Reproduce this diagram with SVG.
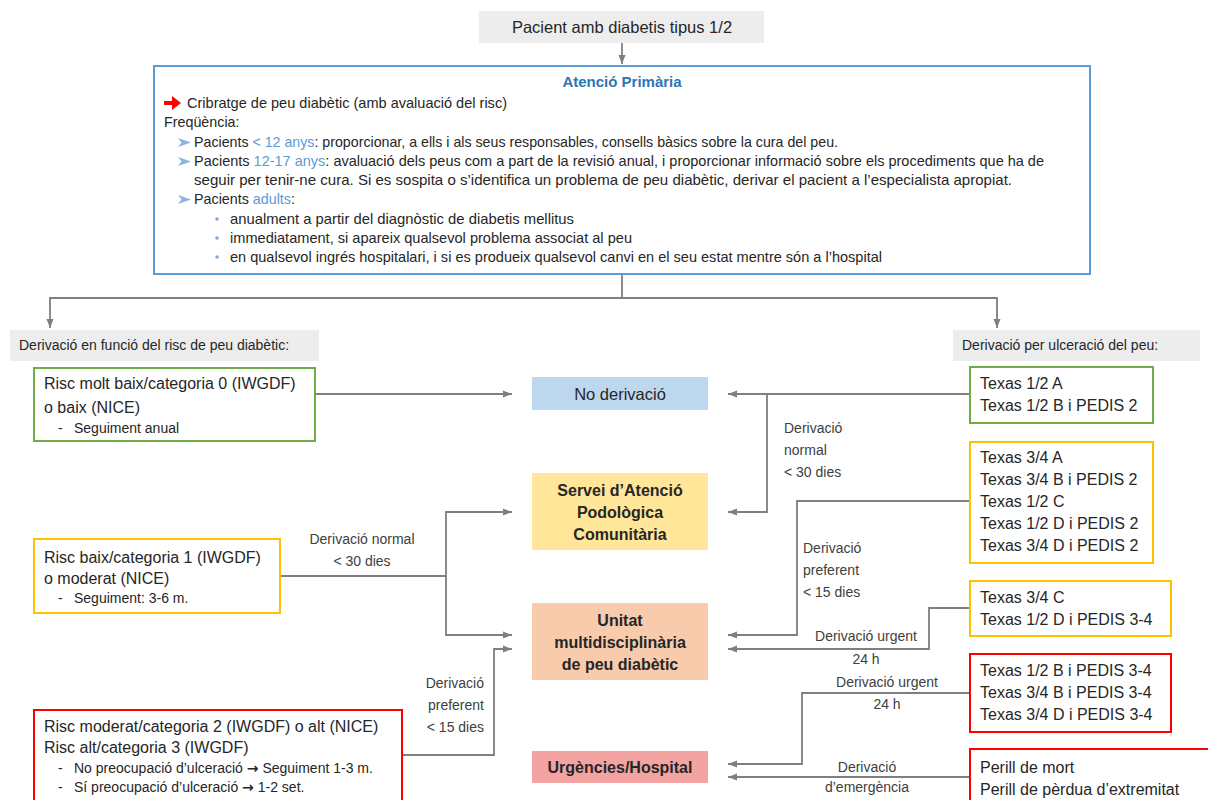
<svg xmlns="http://www.w3.org/2000/svg" width="1208" height="800" viewBox="0 0 1208 800">
<defs>
<marker id="ah" markerUnits="userSpaceOnUse" markerWidth="9" markerHeight="8" refX="9" refY="4" orient="auto"><path d="M0,0.5 L9,4 L0,7.5 z" fill="#7F7F7F"/></marker>
<style>
text{font-family:"Liberation Sans",Arial,sans-serif;fill:#262626}
.body{font-size:14.3px}
.box{font-size:16px}
.sub{font-size:14px}
.lab{font-size:14px;fill:#404040}
.node{font-size:16px;font-weight:bold;text-anchor:middle}
.mid{text-anchor:middle}
.end{text-anchor:end}
.hl{fill:#5B9BD5}
.arr{font-family:"DejaVu Sans",sans-serif;font-weight:bold}
.conn path{fill:none;stroke:#7F7F7F;stroke-width:1.8;marker-end:url(#ah)}
.conn path.plain{marker-end:none}
.gray{fill:#EDEDED}
.bg{fill:#FFFFFF;stroke-width:2}
.g{stroke:#70AD47}
.y{stroke:#FFC000}
.r{stroke:#FF0000}
.chev{fill:#8FB4E3}
.dot{fill:#7FA9DD}
</style>
</defs>
<rect width="1208" height="800" fill="#FFFFFF"/>

<g id="connectors" class="conn">
<path d="M622,43 V64"/>
<path class="plain" d="M622,274 V298"/>
<path d="M622,298 H50 V328"/>
<path d="M622,298 H997 V328"/>
<path d="M315,394 H512"/>
<path d="M280,576 H446 V512 H512"/>
<path d="M446,576 V635 H512"/>
<path d="M402,755 H494 V649 H512"/>
<path d="M970,394 H728"/>
<path d="M767,394 V512 H728"/>
<path d="M970,501 H797 V635 H728"/>
<path d="M970,608 H929 V649 H728"/>
<path d="M970,693 H802 V764 H728"/>
<path d="M970,777 H728"/>
</g>

<g id="connector-labels">
<text class="lab mid" x="362" y="544">Derivació normal</text>
<text class="lab mid" x="362" y="566">&lt; 30 dies</text>
<text class="lab end" x="484" y="688">Derivació</text>
<text class="lab end" x="484" y="710">preferent</text>
<text class="lab end" x="484" y="732">&lt; 15 dies</text>
<text class="lab" x="784" y="433">Derivació</text>
<text class="lab" x="784" y="455">normal</text>
<text class="lab" x="784" y="477">&lt; 30 dies</text>
<text class="lab" x="803" y="553">Derivació</text>
<text class="lab" x="803" y="575">preferent</text>
<text class="lab" x="803" y="597">&lt; 15 dies</text>
<text class="lab mid" x="866" y="641">Derivació urgent</text>
<text class="lab mid" x="866" y="664">24 h</text>
<text class="lab mid" x="887" y="687">Derivació urgent</text>
<text class="lab mid" x="887" y="709">24 h</text>
<text class="lab mid" x="867" y="772">Derivació</text>
<text class="lab mid" x="867" y="792">d’emergència</text>
</g>

<g id="n-pacient">
<rect class="gray" x="479" y="11" width="285" height="32"/>
<text class="mid" x="622" y="33" style="font-size:16.5px">Pacient amb diabetis tipus 1/2</text>
</g>

<g id="n-atencio">
<rect x="154" y="66" width="936" height="208" fill="#FFFFFF" stroke="#5B9BD5" stroke-width="2"/>
<text class="mid" x="622" y="87" style="font-size:15px;font-weight:bold;fill:#2E75B6">Atenció Primària</text>
<path d="M164,101 H172 V96 L181,103 L172,110 V105 H164 Z" fill="#FF0000"/>
<text class="body" x="187" y="108" textLength="320" lengthAdjust="spacingAndGlyphs">Cribratge de peu diabètic (amb avaluació del risc)</text>
<text class="body" x="164" y="127">Freqüència:</text>
<path class="chev" d="M178,138 L191,142.5 L178,147 L181.5,142.5 Z"/>
<text class="body" x="194" y="147" textLength="644" lengthAdjust="spacingAndGlyphs">Pacients <tspan class="hl">&lt; 12 anys</tspan>: proporcionar, a ells i als seus responsables, consells bàsics sobre la cura del peu.</text>
<path class="chev" d="M178,157 L191,161.5 L178,166 L181.5,161.5 Z"/>
<text class="body" x="194" y="166" textLength="850" lengthAdjust="spacingAndGlyphs">Pacients <tspan class="hl">12-17 anys</tspan>: avaluació dels peus com a part de la revisió anual, i proporcionar informació sobre els procediments que ha de</text>
<text class="body" x="194" y="185" textLength="818" lengthAdjust="spacingAndGlyphs">seguir per tenir-ne cura. Si es sospita o s’identifica un problema de peu diabètic, derivar el pacient a l’especialista apropiat.</text>
<path class="chev" d="M178,195 L191,199.5 L178,204 L181.5,199.5 Z"/>
<text class="body" x="194" y="204">Pacients <tspan class="hl">adults</tspan>:</text>
<circle class="dot" cx="217" cy="219" r="1.8"/>
<text class="body" x="230" y="224" textLength="344" lengthAdjust="spacingAndGlyphs">anualment a partir del diagnòstic de diabetis mellitus</text>
<circle class="dot" cx="217" cy="238" r="1.8"/>
<text class="body" x="230" y="243" textLength="402" lengthAdjust="spacingAndGlyphs">immediatament, si apareix qualsevol problema associat al peu</text>
<circle class="dot" cx="217" cy="257" r="1.8"/>
<text class="body" x="230" y="262" textLength="652" lengthAdjust="spacingAndGlyphs">en qualsevol ingrés hospitalari, i si es produeix qualsevol canvi en el seu estat mentre són a l’hospital</text>
</g>

<g id="n-label-risc">
<rect class="gray" x="10" y="330" width="309" height="31"/>
<text class="lab" x="19" y="350" style="fill:#262626">Derivació en funció del risc de peu diabètic:</text>
</g>
<g id="n-label-ulceracio">
<rect class="gray" x="953" y="330" width="247" height="31"/>
<text class="lab" x="962" y="350" style="fill:#262626">Derivació per ulceració del peu:</text>
</g>

<g id="n-risc0">
<rect class="bg g" x="34" y="368" width="281" height="73"/>
<text class="box" x="44" y="389">Risc molt baix/categoria 0 (IWGDF)</text>
<text class="box" x="44" y="413">o baix (NICE)</text>
<text class="sub" x="58" y="433">-</text>
<text class="sub" x="74" y="433">Seguiment anual</text>
</g>

<g id="n-risc1">
<rect class="bg y" x="34" y="539" width="246" height="74"/>
<text class="box" x="44" y="563">Risc baix/categoria 1 (IWGDF)</text>
<text class="box" x="44" y="584">o moderat (NICE)</text>
<text class="sub" x="58" y="603">-</text>
<text class="sub" x="74" y="603">Seguiment: 3-6 m.</text>
</g>

<g id="n-risc2">
<rect class="bg r" x="34" y="710" width="368" height="100"/>
<text class="box" x="44" y="732">Risc moderat/categoria 2 (IWGDF) o alt (NICE)</text>
<text class="box" x="44" y="753">Risc alt/categoria 3 (IWGDF)</text>
<text class="sub" x="58" y="773">-</text>
<text class="sub" x="74" y="773">No preocupació d’ulceració <tspan class="arr">→</tspan> Seguiment 1-3 m.</text>
<text class="sub" x="58" y="792">-</text>
<text class="sub" x="74" y="792">Sí preocupació d’ulceració <tspan class="arr">→</tspan> 1-2 set.</text>
</g>

<g id="n-noderivacio">
<rect x="532" y="377" width="176" height="33" fill="#BDD7EE"/>
<text class="mid" x="620" y="400" style="font-size:16.5px">No derivació</text>
</g>
<g id="n-servei">
<rect x="532" y="473" width="176" height="77" fill="#FFE699"/>
<text class="node" x="620" y="496">Servei d’Atenció</text>
<text class="node" x="620" y="518">Podològica</text>
<text class="node" x="620" y="540">Comunitària</text>
</g>
<g id="n-unitat">
<rect x="532" y="603" width="176" height="77" fill="#F8CBAD"/>
<text class="node" x="620" y="626">Unitat</text>
<text class="node" x="620" y="648">multidisciplinària</text>
<text class="node" x="620" y="670">de peu diabètic</text>
</g>
<g id="n-urgencies">
<rect x="532" y="751" width="176" height="32" fill="#F4A3A3"/>
<text class="node" x="620" y="773">Urgències/Hospital</text>
</g>

<g id="n-texas-green">
<rect class="bg g" x="970" y="367" width="183" height="56"/>
<text class="box" x="980" y="389">Texas 1/2 A</text>
<text class="box" x="980" y="411">Texas 1/2 B i PEDIS 2</text>
</g>
<g id="n-texas-yellow1">
<rect class="bg y" x="970" y="442" width="183" height="121"/>
<text class="box" x="980" y="463">Texas 3/4 A</text>
<text class="box" x="980" y="485">Texas 3/4 B i PEDIS 2</text>
<text class="box" x="980" y="507">Texas 1/2 C</text>
<text class="box" x="980" y="529">Texas 1/2 D i PEDIS 2</text>
<text class="box" x="980" y="551">Texas 3/4 D i PEDIS 2</text>
</g>
<g id="n-texas-yellow2">
<rect class="bg y" x="970" y="581" width="201" height="55"/>
<text class="box" x="980" y="603">Texas 3/4 C</text>
<text class="box" x="980" y="625">Texas 1/2 D i PEDIS 3-4</text>
</g>
<g id="n-texas-red">
<rect class="bg r" x="970" y="654" width="201" height="78"/>
<text class="box" x="980" y="676">Texas 1/2 B i PEDIS 3-4</text>
<text class="box" x="980" y="698">Texas 3/4 B i PEDIS 3-4</text>
<text class="box" x="980" y="720">Texas 3/4 D i PEDIS 3-4</text>
</g>
<g id="n-perill">
<rect class="bg r" x="970" y="749" width="250" height="70"/>
<text class="box" x="980" y="773">Perill de mort</text>
<text class="box" x="980" y="795">Perill de pèrdua d’extremitat</text>
</g>
</svg>
